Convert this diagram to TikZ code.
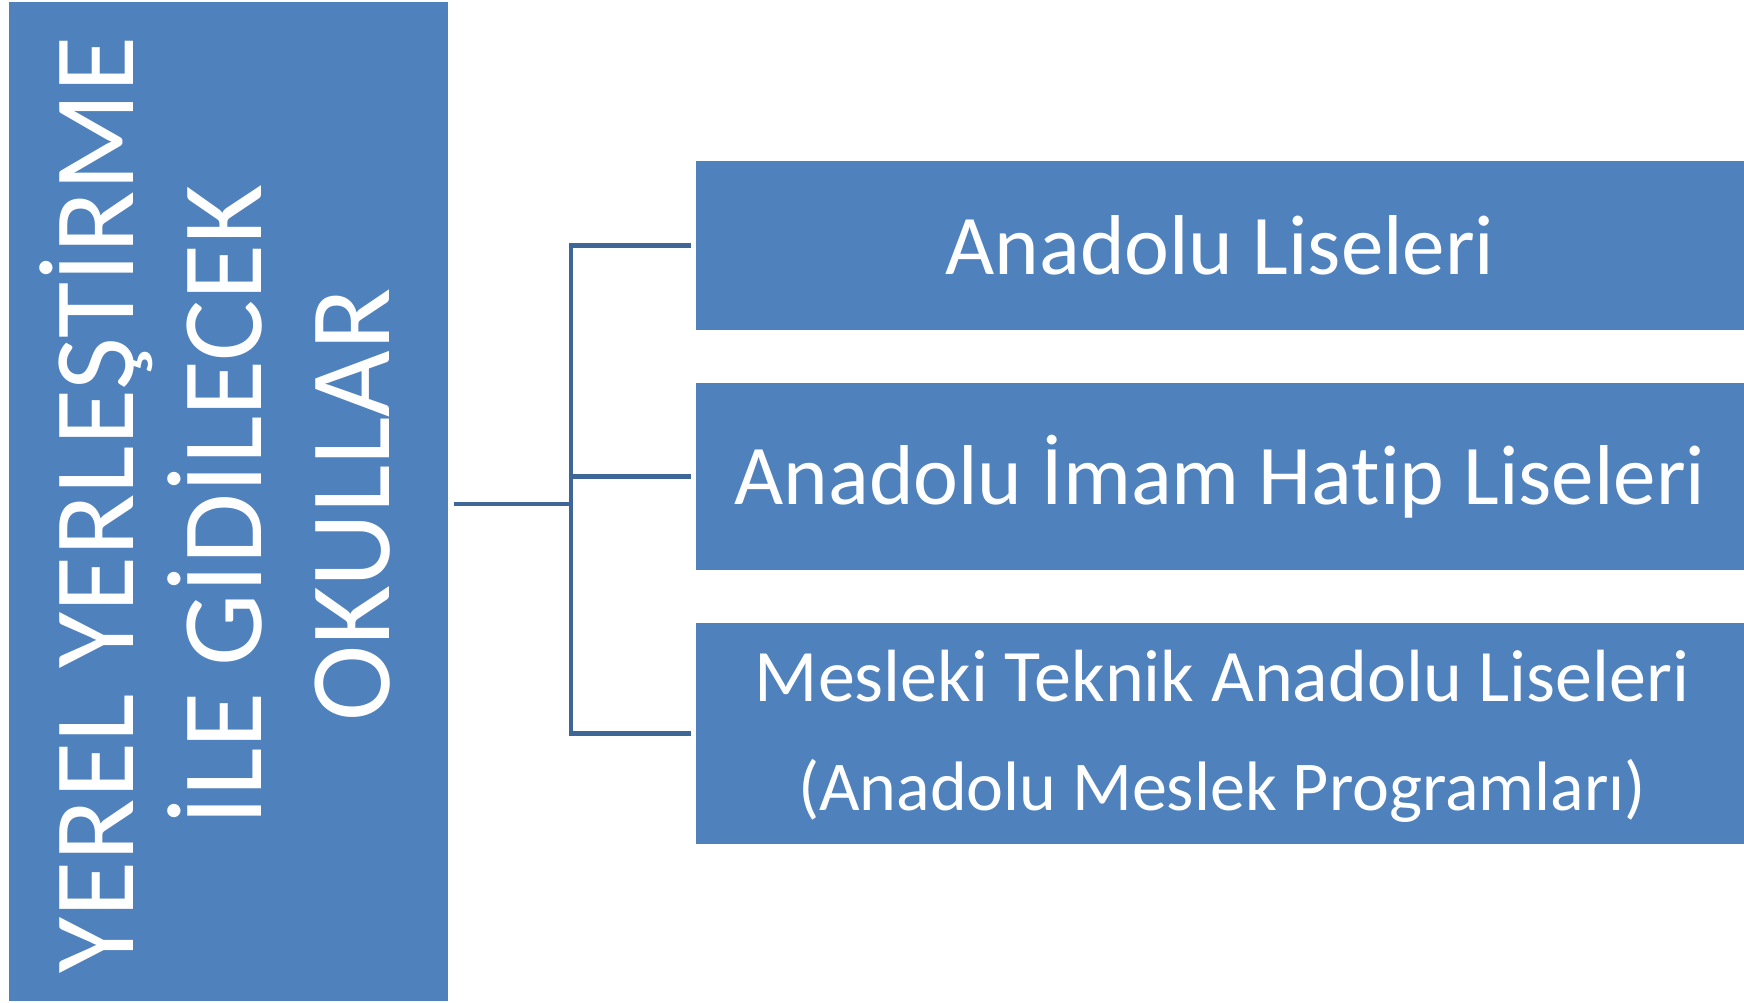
\documentclass[tikz,border=0pt]{standalone}
\usepackage{fontspec}
\setmainfont{Carlito}[Ligatures=NoCommon]
\definecolor{boxblue}{HTML}{4F81BD}
\definecolor{linkblue}{HTML}{3E6797}
\begin{document}
\begin{tikzpicture}[x=1pt,y=1pt,
  blbox/.style={draw=none,fill=boxblue,inner sep=0pt,outer sep=0pt,text=white,align=center},
  conn/.style={draw=linkblue,line width=4.5pt,line join=miter}]
\useasboundingbox (0,0) rectangle (1744,1002);
\node[blbox,minimum width=439pt,minimum height=999pt] (L) at (228.5,500.5) {};
\node[text=white,rotate=90,align=center,font=\fontsize{115}{128}\selectfont,inner sep=0pt] (LT) at (215,497) {YEREL YERLEŞTİRME\\İLE GİDİLECEK\\OKULLAR};
\node[blbox,minimum width=1048pt,minimum height=169pt,font=\fontsize{85}{109}\selectfont] (A) at (1220,756.5) {Anadolu Liseleri};
\node[blbox,minimum width=1048pt,minimum height=221pt,font=\fontsize{74}{109}\selectfont] (C) at (1220,268.5) {};
\node[blbox,minimum width=1048pt,minimum height=187pt,font=\fontsize{85}{109}\selectfont] (B) at (1220,525.5) {Anadolu İmam Hatip Liseleri};
\node[text=white,align=center,inner sep=0pt,font=\fontsize{74}{109}\selectfont] (CT) at (1222,266) {Mesleki Teknik Anadolu Liseleri\\{\fontsize{70}{109}\selectfont (Anadolu Meslek Programları)}};
\coordinate (j) at (571,498);
\draw[conn] ([xshift=6pt]L.east |- j) -- (j);
\draw[conn] ([xshift=-5pt]A.west) -| (j) |- ([xshift=-5pt]C.west);
\draw[conn] (j |- B.west) -- ([xshift=-5pt]B.west);
\end{tikzpicture}
\end{document}
